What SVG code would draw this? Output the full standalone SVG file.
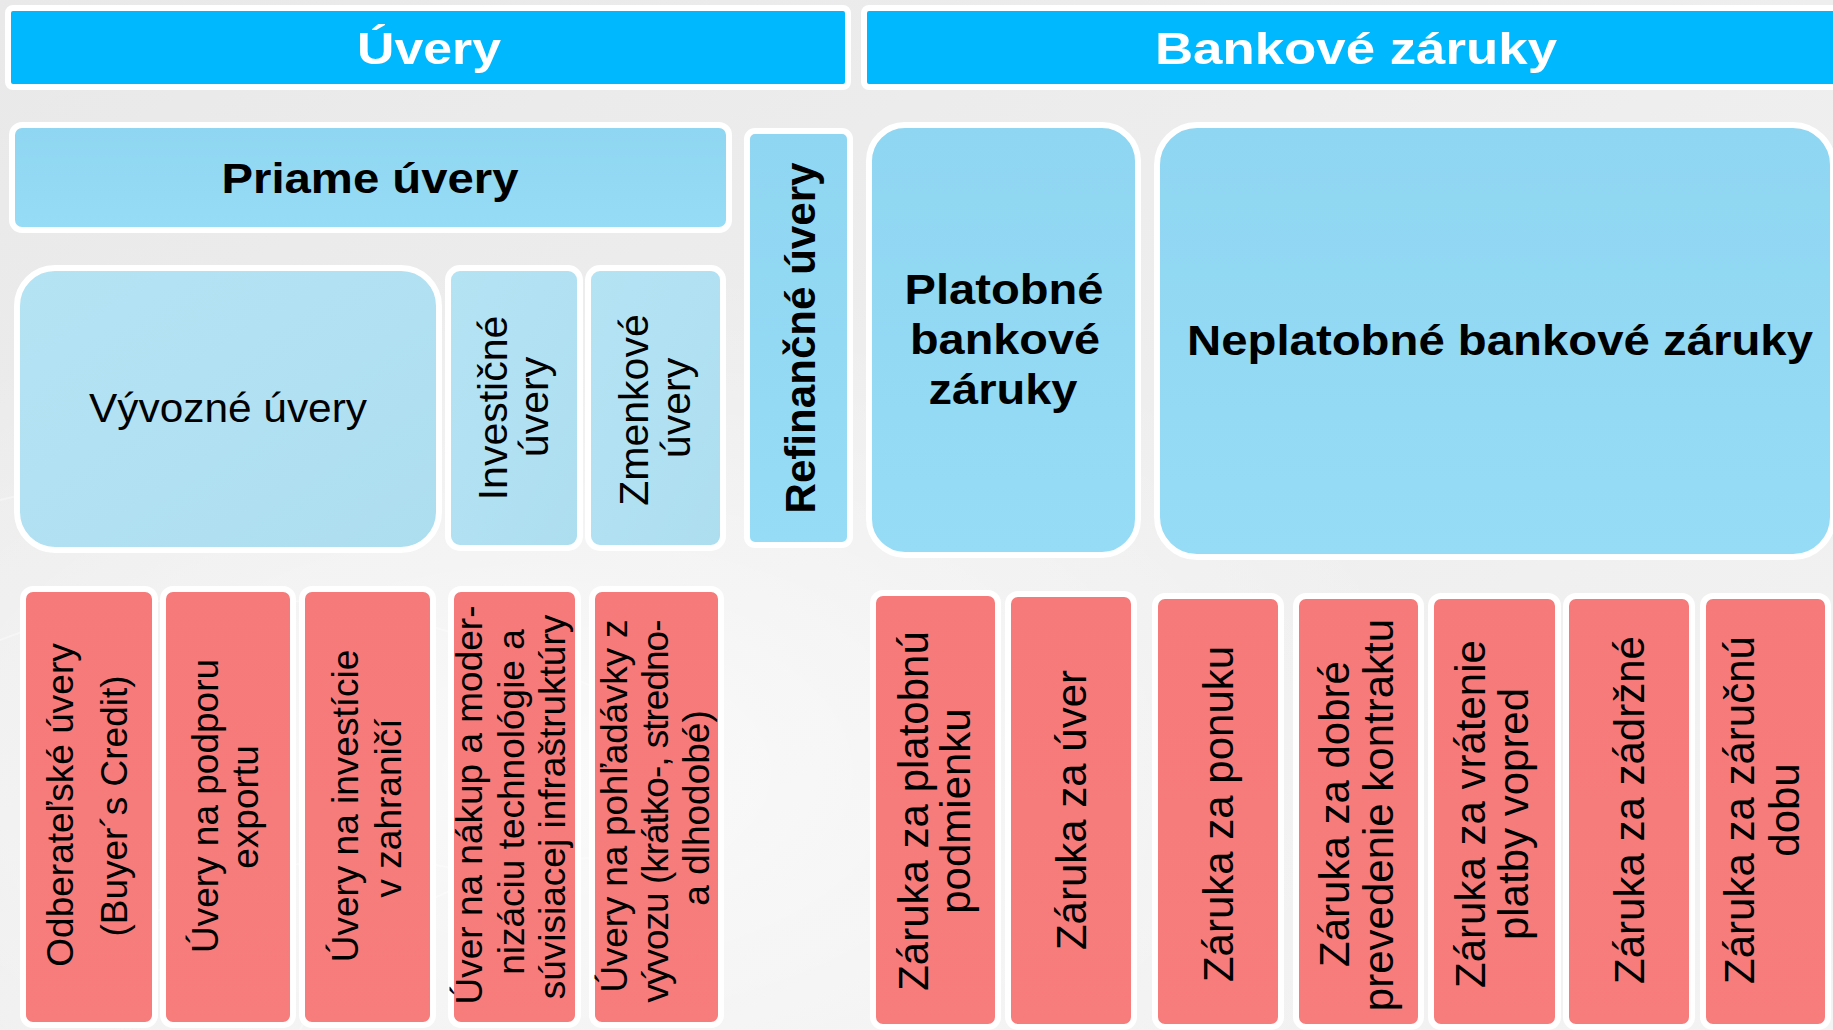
<svg xmlns="http://www.w3.org/2000/svg" width="1833" height="1030" viewBox="0 0 1833 1030">
<defs>
<linearGradient id="bg" x1="0" y1="0" x2="1" y2="1">
<stop offset="0" stop-color="#e9e9e9"/>
<stop offset="0.5" stop-color="#eeeeee"/>
<stop offset="1" stop-color="#f3f3f3"/>
</linearGradient>
<radialGradient id="glow" cx="0.3" cy="0.75" r="0.5">
<stop offset="0" stop-color="#ffffff" stop-opacity="0.7"/>
<stop offset="1" stop-color="#ffffff" stop-opacity="0"/>
</radialGradient>
<linearGradient id="blueMid" x1="0" y1="0" x2="0" y2="1">
<stop offset="0" stop-color="#8fd6f2"/>
<stop offset="1" stop-color="#97dcf6"/>
</linearGradient>
<linearGradient id="blueLight" x1="0" y1="0" x2="1" y2="1">
<stop offset="0" stop-color="#b4e3f4"/>
<stop offset="1" stop-color="#addef0"/>
</linearGradient>
<linearGradient id="red" x1="0" y1="0" x2="0" y2="1">
<stop offset="0" stop-color="#f67a7a"/>
<stop offset="1" stop-color="#f77c7c"/>
</linearGradient>
</defs>
<style>
.hdr{fill:#00b8fe;stroke:#ffffff;stroke-width:6}
.mid{fill:url(#blueMid);stroke:#ffffff;stroke-width:6}
.lt{fill:url(#blueLight);stroke:#ffffff;stroke-width:6}
.rd{fill:url(#red);stroke:#ffffff;stroke-width:6}
text{font-family:"Liberation Sans",Arial,sans-serif;text-anchor:middle}
.ht{fill:#ffffff;font-weight:bold;font-size:45px}
.bt{fill:#000000;font-weight:bold;font-size:43px}
.rt{fill:#000000;font-size:41px}
.lr{fill:#000000;font-size:37px}
.rr{fill:#000000;font-size:42px}
</style>
<rect x="0" y="0" width="1833" height="1030" fill="url(#bg)"/>
<rect x="0" y="0" width="1833" height="1030" fill="url(#glow)"/>
<g fill="none" stroke="#ffffff" stroke-opacity="0.35" stroke-width="2">
<path d="M0 640 C200 560 420 600 620 700"/>
<path d="M40 1000 C180 860 360 820 560 900"/>
<path d="M300 1030 C360 900 520 840 700 860"/>
<path d="M0 500 C120 470 260 480 380 520"/>
</g>

<g id="uvery">
<rect class="hdr" x="8" y="8" width="840" height="79" rx="5"/>
<text class="ht" x="429" y="64" textLength="144" lengthAdjust="spacingAndGlyphs">Úvery</text>
</g>
<g id="bankove-zaruky">
<rect class="hdr" x="864" y="8" width="980" height="79" rx="5"/>
<text class="ht" x="1356" y="64" textLength="402" lengthAdjust="spacingAndGlyphs">Bankové záruky</text>
</g>

<g id="priame-uvery">
<rect class="mid" x="12" y="125" width="717" height="105" rx="10"/>
<text class="bt" x="370" y="193" textLength="297" lengthAdjust="spacingAndGlyphs">Priame úvery</text>
</g>
<g id="refinancne-uvery">
<rect class="mid" x="747" y="131" width="103" height="414" rx="8"/>
<text class="bt" style="font-size:42px" transform="translate(815,338) rotate(-90)" textLength="351" lengthAdjust="spacingAndGlyphs">Refinančné úvery</text>
</g>
<g id="platobne">
<rect class="mid" x="869" y="125" width="269" height="430" rx="36"/>
<text class="bt" x="1004" y="304" textLength="199" lengthAdjust="spacingAndGlyphs">Platobné</text>
<text class="bt" x="1005" y="354" textLength="190" lengthAdjust="spacingAndGlyphs">bankové</text>
<text class="bt" x="1003" y="404" textLength="149" lengthAdjust="spacingAndGlyphs">záruky</text>
</g>
<g id="neplatobne">
<rect class="mid" x="1157" y="125" width="676" height="432" rx="40"/>
<text class="bt" x="1500" y="355" textLength="626" lengthAdjust="spacingAndGlyphs">Neplatobné bankové záruky</text>
</g>

<g id="vyvozne-uvery">
<rect class="lt" x="17" y="268" width="422" height="282" rx="38"/>
<text class="rt" style="font-size:40px" x="228" y="422" textLength="278" lengthAdjust="spacingAndGlyphs">Vývozné úvery</text>
</g>
<g id="investicne-uvery">
<rect class="lt" x="448" y="268" width="132" height="280" rx="12"/>
<text class="rt" transform="translate(507,408) rotate(-90)">Investičné</text>
<text class="rt" transform="translate(548,407) rotate(-90)">úvery</text>
</g>
<g id="zmenkove-uvery">
<rect class="lt" x="588" y="268" width="135" height="280" rx="12"/>
<text class="rt" transform="translate(648,410) rotate(-90)">Zmenkové</text>
<text class="rt" transform="translate(690,408) rotate(-90)">úvery</text>
</g>

<g id="odberatelske">
<rect class="rd" x="23" y="589" width="132" height="436" rx="10"/>
<text class="lr" transform="translate(73,805) rotate(-90)">Odberateľské úvery</text>
<text class="lr" transform="translate(127,806) rotate(-90)">(Buyer´s Credit)</text>
</g>
<g id="podpora-exportu">
<rect class="rd" x="163" y="589" width="130" height="436" rx="10"/>
<text class="lr" transform="translate(218,806) rotate(-90)">Úvery na podporu</text>
<text class="lr" transform="translate(258,807) rotate(-90)">exportu</text>
</g>
<g id="investicie-zahranici">
<rect class="rd" x="302" y="589" width="131" height="436" rx="10"/>
<text class="lr" transform="translate(358,806) rotate(-90)">Úvery na investície</text>
<text class="lr" transform="translate(401,808) rotate(-90)">v zahraničí</text>
</g>
<g id="nakup-technologie">
<rect class="rd" x="451" y="589" width="127" height="436" rx="10"/>
<text class="lr" transform="translate(482,805) rotate(-90)">Úver na nákup a moder-</text>
<text class="lr" transform="translate(524,802) rotate(-90)">nizáciu technológie a</text>
<text class="lr" transform="translate(565,807) rotate(-90)">súvisiacej infraštruktúry</text>
</g>
<g id="pohladavky-vyvozu">
<rect class="rd" x="592" y="589" width="129" height="436" rx="10"/>
<text class="lr" transform="translate(627,806) rotate(-90)" textLength="373" lengthAdjust="spacing">Úvery na pohľadávky z</text>
<text class="lr" transform="translate(668,811) rotate(-90)" textLength="383" lengthAdjust="spacing">vývozu (krátko-, stredno-</text>
<text class="lr" transform="translate(709,808) rotate(-90)">a dlhodobé)</text>
</g>

<g id="zaruka-platobnu">
<rect class="rd" x="873" y="593" width="125" height="434" rx="10"/>
<text class="rr" transform="translate(928,811) rotate(-90)">Záruka za platobnú</text>
<text class="rr" transform="translate(970,811) rotate(-90)">podmienku</text>
</g>
<g id="zaruka-uver">
<rect class="rd" x="1008" y="594" width="126" height="433" rx="10"/>
<text class="rr" transform="translate(1086,810) rotate(-90)">Záruka za úver</text>
</g>
<g id="zaruka-ponuku">
<rect class="rd" x="1155" y="596" width="126" height="431" rx="10"/>
<text class="rr" transform="translate(1233,814) rotate(-90)">Záruka za ponuku</text>
</g>
<g id="zaruka-dobre-prevedenie">
<rect class="rd" x="1296" y="596" width="125" height="431" rx="10"/>
<text class="rr" transform="translate(1349,814) rotate(-90)">Záruka za dobré</text>
<text class="rr" transform="translate(1393,815) rotate(-90)">prevedenie kontraktu</text>
</g>
<g id="zaruka-vratenie">
<rect class="rd" x="1431" y="596" width="127" height="431" rx="10"/>
<text class="rr" transform="translate(1485,814) rotate(-90)">Záruka za vrátenie</text>
<text class="rr" transform="translate(1528,814) rotate(-90)">platby vopred</text>
</g>
<g id="zaruka-zadrzne">
<rect class="rd" x="1566" y="596" width="126" height="431" rx="10"/>
<text class="rr" transform="translate(1644,810) rotate(-90)">Záruka za zádržné</text>
</g>
<g id="zaruka-zarucnu-dobu">
<rect class="rd" x="1703" y="596" width="125" height="431" rx="10"/>
<text class="rr" transform="translate(1754,810) rotate(-90)">Záruka za záručnú</text>
<text class="rr" transform="translate(1799,810) rotate(-90)">dobu</text>
</g>

<g id="connectors"/>
</svg>
